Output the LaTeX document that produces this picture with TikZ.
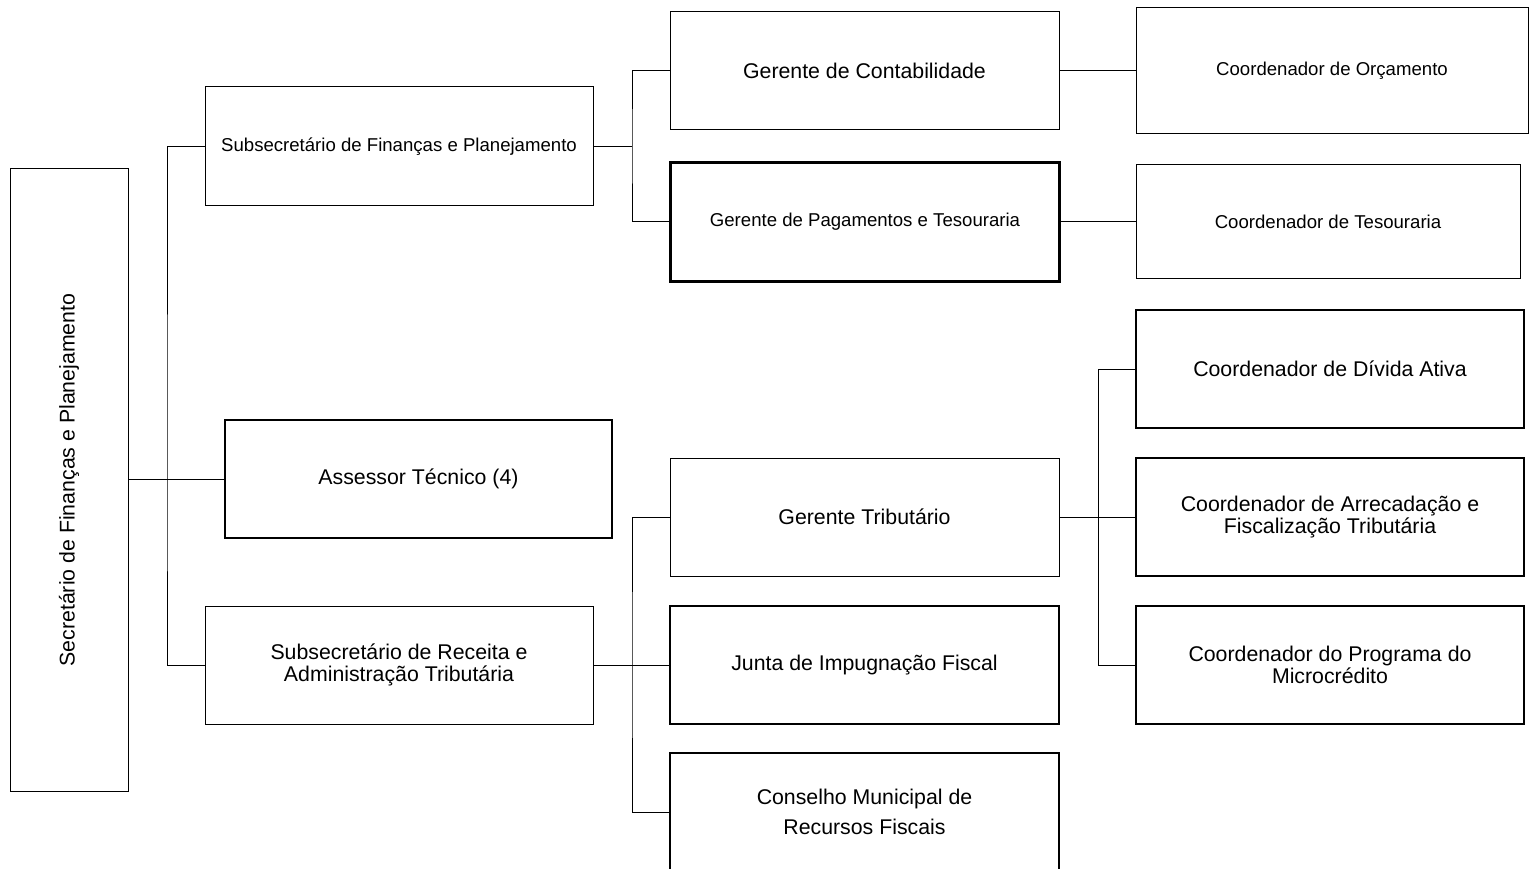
\documentclass[tikz,border=0pt]{standalone}
\usepackage{fontspec}
\setmainfont{Liberation Sans}
\begin{document}
\begin{tikzpicture}[x=1pt,y=-1pt,
  box/.style={draw=black,line width=1pt,rectangle,inner sep=0pt,align=center,font=\fontsize{21.3}{22}\selectfont},
  sbox/.style={box,font=\fontsize{18.6}{22}\selectfont},
  heavy/.style={line width=2pt},
  heavier/.style={line width=3pt},
  conn/.style={draw=black,line width=1pt}]
\useasboundingbox (0,0) rectangle (1531,869);
\clip (0,0) rectangle (1531,869);
% nodes
\node[box,minimum width=118pt,minimum height=622pt] (sec) at (69,480) {};
\node[rotate=90,font=\fontsize{21.3}{22}\selectfont] (sect) at (sec.center) {Secretário de Finanças e Planejamento};
\node[sbox,minimum width=388pt,minimum height=119pt] (sf) at (399,146.5) {Subsecretário de Finanças e Planejamento};
\node[box,heavy,minimum width=387pt,minimum height=118pt] (ass) at (418.5,479) {Assessor Técnico (4)};
\node[box,minimum width=388pt,minimum height=118pt] (sr) at (399,665) {Subsecretário de Receita e\\Administração Tributária};
\node[box,minimum width=389pt,minimum height=118pt] (gc) at (864.5,71) {Gerente de Contabilidade};
\node[sbox,heavier,minimum width=389pt,minimum height=118pt] (gp) at (865,222) {Gerente de Pagamentos e Tesouraria};
\node[box,minimum width=389pt,minimum height=118pt] (gt) at (864.5,517) {Gerente Tributário};
\node[box,heavy,minimum width=389pt,minimum height=118pt] (jn) at (864.5,665) {Junta de Impugnação Fiscal};
\node[box,heavy,minimum width=389pt,minimum height=118pt,font=\fontsize{21.3}{30}\selectfont] (cm) at (864.5,812) {Conselho Municipal de\\Recursos Fiscais};
\node[sbox,minimum width=392pt,minimum height=126pt] (co) at (1332,71) {Coordenador de Orçamento};
\node[sbox,minimum width=384pt,minimum height=113pt] (ct) at (1328,221.5) {Coordenador de Tesouraria};
\node[box,heavy,minimum width=388pt,minimum height=118pt] (cd) at (1330,369) {Coordenador de Dívida Ativa};
\node[box,heavy,minimum width=388pt,minimum height=118pt] (ca) at (1330,517) {Coordenador de Arrecadação e\\Fiscalização Tributária};
\node[box,heavy,minimum width=388pt,minimum height=118pt] (cmi) at (1330,665) {Coordenador do Programa do\\Microcrédito};
% junction points
\coordinate (t1) at (167,479);
\coordinate (j1) at (632,146.5);
\coordinate (j2) at (632,665);
\coordinate (j3) at (1098,517);
% connectors
\draw[conn] (sec.east|-ass.west) -- (ass.west);
\draw[conn] (sf.west) -| (t1) |- (sr.west);
\draw[conn] (sf.east) -- (j1);
\draw[conn] (gc.west) -| (j1) |- (gp.west);
\draw[conn] (sr.east) -- (jn.west);
\draw[conn] (gt.west) -| (j2) |- (cm.west);
\draw[conn] (gc.east) -- (co.west|-gc.east);
\draw[conn] (gp.east) -- (ct.west|-gp.east);
\draw[conn] (gt.east) -- (ca.west);
\draw[conn] (cd.west) -| (j3) |- (cmi.west);
\end{tikzpicture}
\end{document}
